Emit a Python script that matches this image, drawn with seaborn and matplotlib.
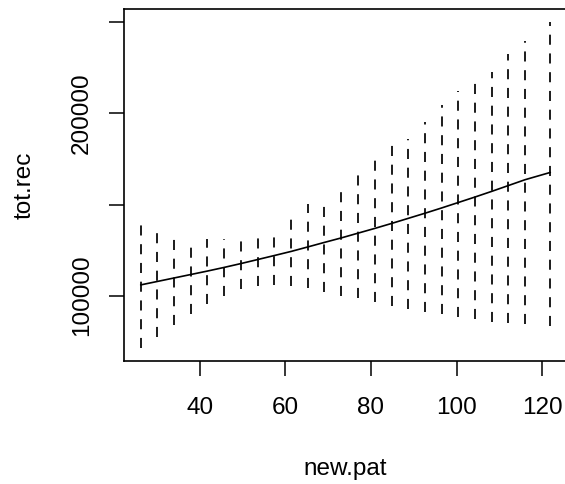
import matplotlib
matplotlib.use("Agg")
import matplotlib.pyplot as plt
import pandas as pd
import seaborn as sns

sns.set_style("ticks")
plt.rcParams['font.family'] = ['Liberation Sans', 'DejaVu Sans']

# values
new_pat = [26.2, 30.1, 34.0, 37.9, 41.8, 45.7, 49.6, 53.5, 57.4, 61.4, 65.2, 69.1,
           73.1, 77.0, 80.9, 84.8, 88.7, 92.6, 96.5, 100.4, 104.3, 108.2, 112.1, 116.0, 121.9]
fit = [105900, 107800, 109700, 111600, 113500, 115500, 117600, 119800, 122000, 124300,
       126700, 129200, 131700, 134300, 136900, 139600, 142400, 145200, 148100, 151100,
       154100, 157200, 160400, 163600, 167600]
lwr = [71200, 77500, 83900, 89800, 95300, 100000, 103800, 105300, 105700, 105300,
       104000, 102200, 100000, 98600, 96400, 94500, 92700, 91200, 89800, 88500,
       87100, 85700, 84900, 84300, 83400]
upr = [141100, 137500, 132900, 130000, 131200, 131000, 131200, 133300, 133300, 143300,
       150300, 151500, 160700, 169500, 177500, 184400, 185900, 195000, 204500, 212200,
       219200, 222500, 232500, 239800, 250200]

y_ticks = [100000, 150000, 200000, 250000]
y_ticklabels = ['100000', '', '200000', '']
x_ticks = [40, 60, 80, 100, 120]

df = pd.DataFrame({'new.pat': new_pat, 'tot.rec': fit, 'lwr': lwr, 'upr': upr})

fig = plt.figure(figsize=(5.65, 4.84), dpi=100)
ax = fig.add_axes([124/565, 1 - 361.3/484, 443/565, (361.3 - 8.7)/484])

ax.vlines(df['new.pat'], df['lwr'], df['upr'], colors='black', linewidth=1.25,
          linestyles=(0, (5.8, 5.0)))
sns.lineplot(data=df, x='new.pat', y='tot.rec', color='black', linewidth=1.2, ax=ax)

ax.set_xlim(22.3, 125.8)
ax.set_ylim(64000, 257400)
ax.set_xticks(x_ticks)
ax.set_xticklabels([str(t) for t in x_ticks])
ax.set_yticks(y_ticks)
ax.set_yticklabels(y_ticklabels, rotation=90, va='center')
ax.tick_params(axis='both', length=10.5, width=1.1, color='black', labelsize=17.5,
               labelcolor='black')
ax.tick_params(axis='x', pad=15)
ax.tick_params(axis='y', pad=12)
for s in ax.spines.values():
    s.set_color('black')
    s.set_linewidth(1.2)

ax.set_xlabel('new.pat', fontsize=17.5, labelpad=28, color='black')
ax.set_ylabel('tot.rec', fontsize=17.5, labelpad=25, color='black')

fig.savefig('out.png', dpi=100)
